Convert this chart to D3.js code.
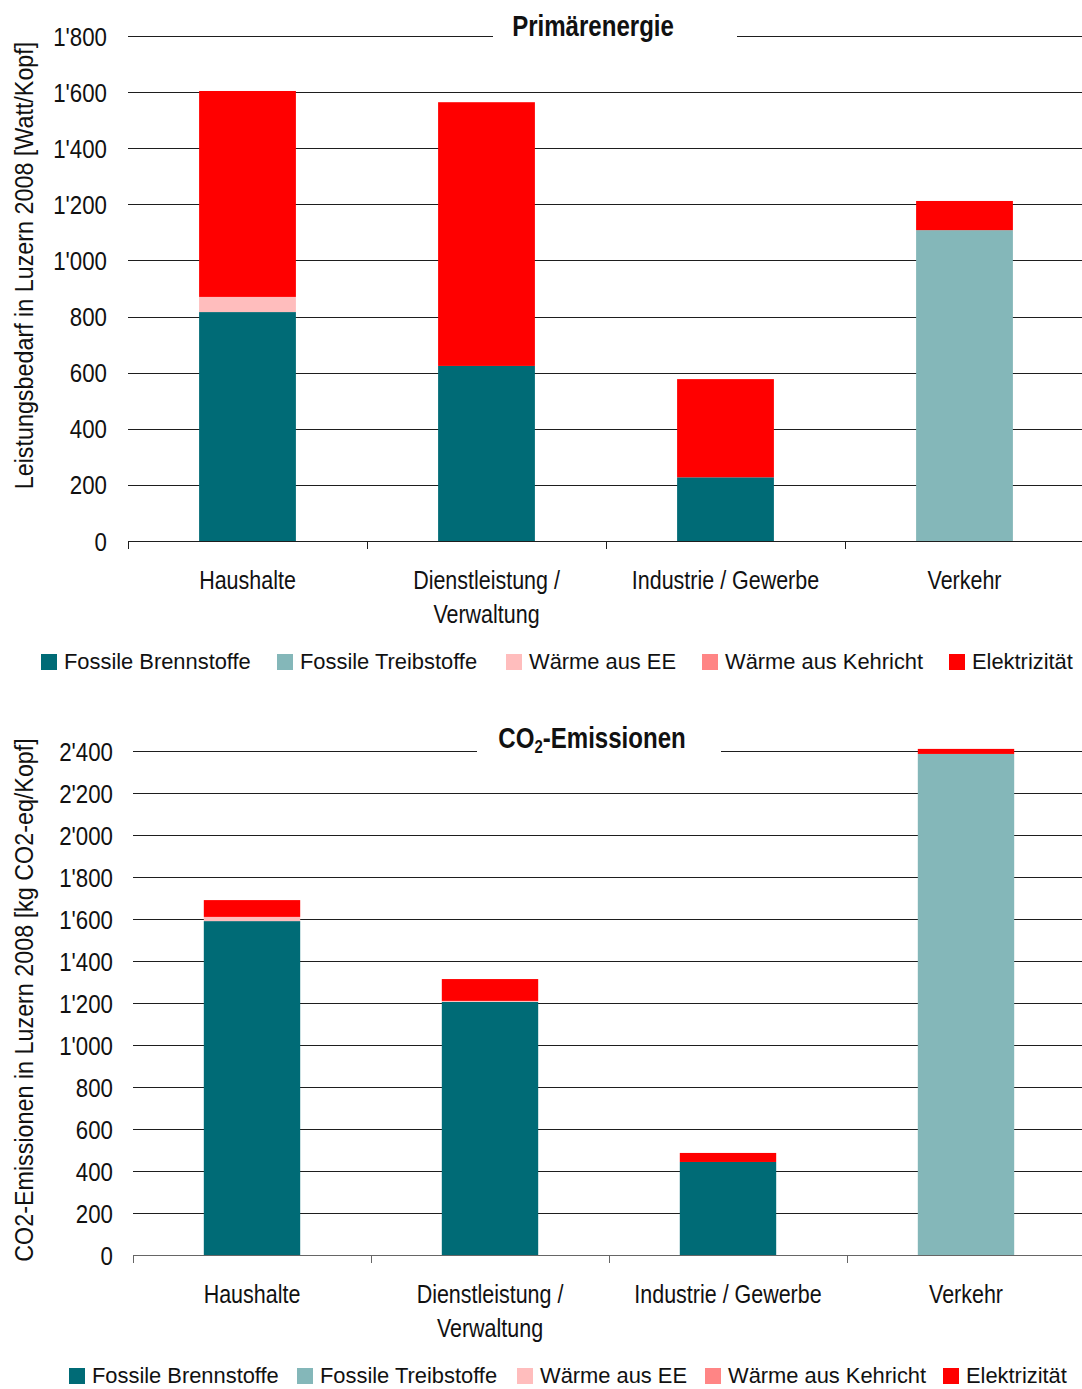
<!DOCTYPE html>
<html>
<head>
<meta charset="utf-8">
<script src="https://cdn.jsdelivr.net/npm/d3@7"></script>
<style>
  html, body { margin: 0; padding: 0; background: #fff; }
  svg { display: block; }
  text { font-family: "Liberation Sans", Arial, sans-serif; fill: #111; }
</style>
</head>
<body>
<svg id="chart" width="1082" height="1389"></svg>
<script>
// Sectors and energy carriers
const categories = ["Haushalte", "Dienstleistung / Verwaltung", "Industrie / Gewerbe", "Verkehr"];
const categoryLines = [["Haushalte"], ["Dienstleistung /", "Verwaltung"], ["Industrie / Gewerbe"], ["Verkehr"]];
const seriesNames = ["Fossile Brennstoffe", "Fossile Treibstoffe", "Wärme aus EE", "Wärme aus Kehricht", "Elektrizität"];
const seriesColors = ["#006B76", "#84B7B9", "#FFBDBD", "#FF8585", "#FF0000"];

// Primary energy demand [Watt/Kopf], one array per carrier, in category order
const primFossilBrenn = [816, 624, 227, 0];
const primFossilTreib = [0, 0, 0, 1108];
const primWaermeEE    = [54, 0, 0, 0];
const primKehricht    = [0, 0, 0, 0];
const primElektr      = [734, 940, 350, 104];
const primTicks = [0, 200, 400, 600, 800, 1000, 1200, 1400, 1600, 1800];

// CO2 emissions [kg CO2-eq/Kopf]
const co2FossilBrenn = [1590, 1205, 443, 0];
const co2FossilTreib = [0, 0, 0, 2386];
const co2WaermeEE    = [20, 5, 0, 0];
const co2Kehricht    = [0, 0, 0, 0];
const co2Elektr      = [80, 104, 43, 24];
const co2Ticks = [0, 200, 400, 600, 800, 1000, 1200, 1400, 1600, 1800, 2000, 2200, 2400];

const svg = d3.select("#chart");
const fmt = v => d3.format(",")(v).replace(/,/g, "'");

// condensed look: horizontally squeezed text
const NARROW = 0.84;

function buildRows(series) {
  return categories.map((c, i) => {
    const row = { category: c };
    seriesNames.forEach((s, k) => { row[s] = series[k][i]; });
    return row;
  });
}

function drawPanel(opt) {
  const g = svg.append("g");
  const rows = buildRows(opt.series);
  const x = d3.scaleBand().domain(categories).range([opt.left, opt.bandRight]).paddingInner(0).paddingOuter(0);
  const y = d3.scaleLinear().domain([0, opt.ticks[opt.ticks.length - 1]]).range([opt.bottom, opt.top]);

  // horizontal gridlines
  g.append("g").selectAll("line").data(opt.ticks.slice(1)).join("line")
    .attr("x1", opt.left).attr("x2", 1082)
    .attr("y1", d => Math.round(y(d)) + 0.5).attr("y2", d => Math.round(y(d)) + 0.5)
    .attr("stroke", "#1e1e1e").attr("stroke-width", 1.2);

  // y tick labels
  g.append("g").selectAll("text").data(opt.ticks).join("text")
    .attr("transform", d => `translate(${opt.labelX},${y(d) + 9.5}) scale(${NARROW},1)`)
    .attr("text-anchor", "end").attr("font-size", 26.5).text(fmt);

  // stacked bars
  const stack = d3.stack().keys(seriesNames)(rows);
  const bw = x.bandwidth() * 0.405;
  g.append("g").selectAll("g").data(stack).join("g")
    .attr("fill", (d, i) => seriesColors[i])
    .selectAll("rect").data(d => d).join("rect")
    .attr("x", d => x(d.data.category) + (x.bandwidth() - bw) / 2)
    .attr("width", bw)
    .attr("y", d => y(d[1]))
    .attr("height", d => Math.max(0, y(d[0]) - y(d[1])));

  // x axis baseline and separators between categories
  const xAxis = d3.axisBottom(x).tickSize(0).tickFormat("");
  const ax = g.append("g").attr("transform", `translate(0,${Math.round(opt.bottom) + 0.5})`).call(xAxis);
  ax.select(".domain").attr("stroke", opt.axisColor).attr("stroke-width", 1.2).attr("d", `M${opt.left},0H1082`);
  ax.selectAll(".tick").remove();
  g.append("g").selectAll("line").data(categories).join("line")
    .attr("x1", d => Math.round(x(d)) + 0.5).attr("x2", d => Math.round(x(d)) + 0.5)
    .attr("y1", opt.bottom).attr("y2", opt.bottom + 8)
    .attr("stroke", opt.axisColor);

  // category labels
  g.append("g").selectAll("text").data(categories).join("text")
    .attr("text-anchor", "middle").attr("font-size", 26.5)
    .attr("transform", d => `translate(${x(d) + x.bandwidth() / 2},${opt.bottom + 48}) scale(0.81,1)`)
    .each(function (d, i) {
      d3.select(this).selectAll("tspan").data(categoryLines[i]).join("tspan")
        .attr("x", 0)
        .attr("dy", (t, j) => j === 0 ? 0 : 34)
        .text(t => t);
    });

  // title on a white box that interrupts the top gridline
  g.append("rect").attr("x", opt.titleBox[0]).attr("width", opt.titleBox[1] - opt.titleBox[0])
    .attr("y", opt.titleY - 26).attr("height", 34).attr("fill", "#fff");
  const title = g.append("text")
    .attr("transform", `translate(${opt.titleX},${opt.titleY}) scale(0.83,1)`)
    .attr("text-anchor", "middle").attr("font-size", 29).attr("font-weight", "bold");
  opt.title(title);

  // y axis title
  g.append("text")
    .attr("transform", `translate(${opt.yTitleX},${(opt.top + opt.bottom) / 2 + opt.yTitleShift}) rotate(-90) scale(0.88,1)`)
    .attr("text-anchor", "middle").attr("font-size", 26.5).text(opt.yTitle);

  // legend
  const lg = g.append("g");
  seriesNames.forEach((s, i) => {
    lg.append("rect").attr("x", opt.legendX[i]).attr("y", opt.legendY - 15).attr("width", 16).attr("height", 16)
      .attr("fill", seriesColors[i]);
    lg.append("text")
      .attr("transform", `translate(${opt.legendX[i] + 23},${opt.legendY}) scale(0.96,1)`)
      .attr("font-size", 22.8).text(s);
  });
}

drawPanel({
  series: [primFossilBrenn, primFossilTreib, primWaermeEE, primKehricht, primElektr],
  ticks: primTicks,
  left: 128, bandRight: 1084, top: 36, bottom: 541,
  labelX: 107, yTitleX: 33, yTitleShift: -23, axisColor: "#1e1e1e",
  yTitle: "Leistungsbedarf in Luzern 2008 [Watt/Kopf]",
  titleX: 593, titleY: 36, titleBox: [493, 737],
  title: t => t.text("Primärenergie"),
  legendX: [41, 277, 506, 702, 949], legendY: 669
});

drawPanel({
  series: [co2FossilBrenn, co2FossilTreib, co2WaermeEE, co2Kehricht, co2Elektr],
  ticks: co2Ticks,
  left: 133, bandRight: 1085, top: 751, bottom: 1255,
  labelX: 113, yTitleX: 33, yTitleShift: -3, axisColor: "#666",
  yTitle: "CO2-Emissionen in Luzern 2008 [kg CO2-eq/Kopf]",
  titleX: 592, titleY: 748, titleBox: [477, 721],
  title: t => {
    t.append("tspan").text("CO");
    t.append("tspan").attr("font-size", 18).attr("dy", 5).text("2");
    t.append("tspan").attr("dy", -5).text("-Emissionen");
  },
  legendX: [69, 297, 517, 705, 943], legendY: 1383
});
</script>
</body>
</html>
